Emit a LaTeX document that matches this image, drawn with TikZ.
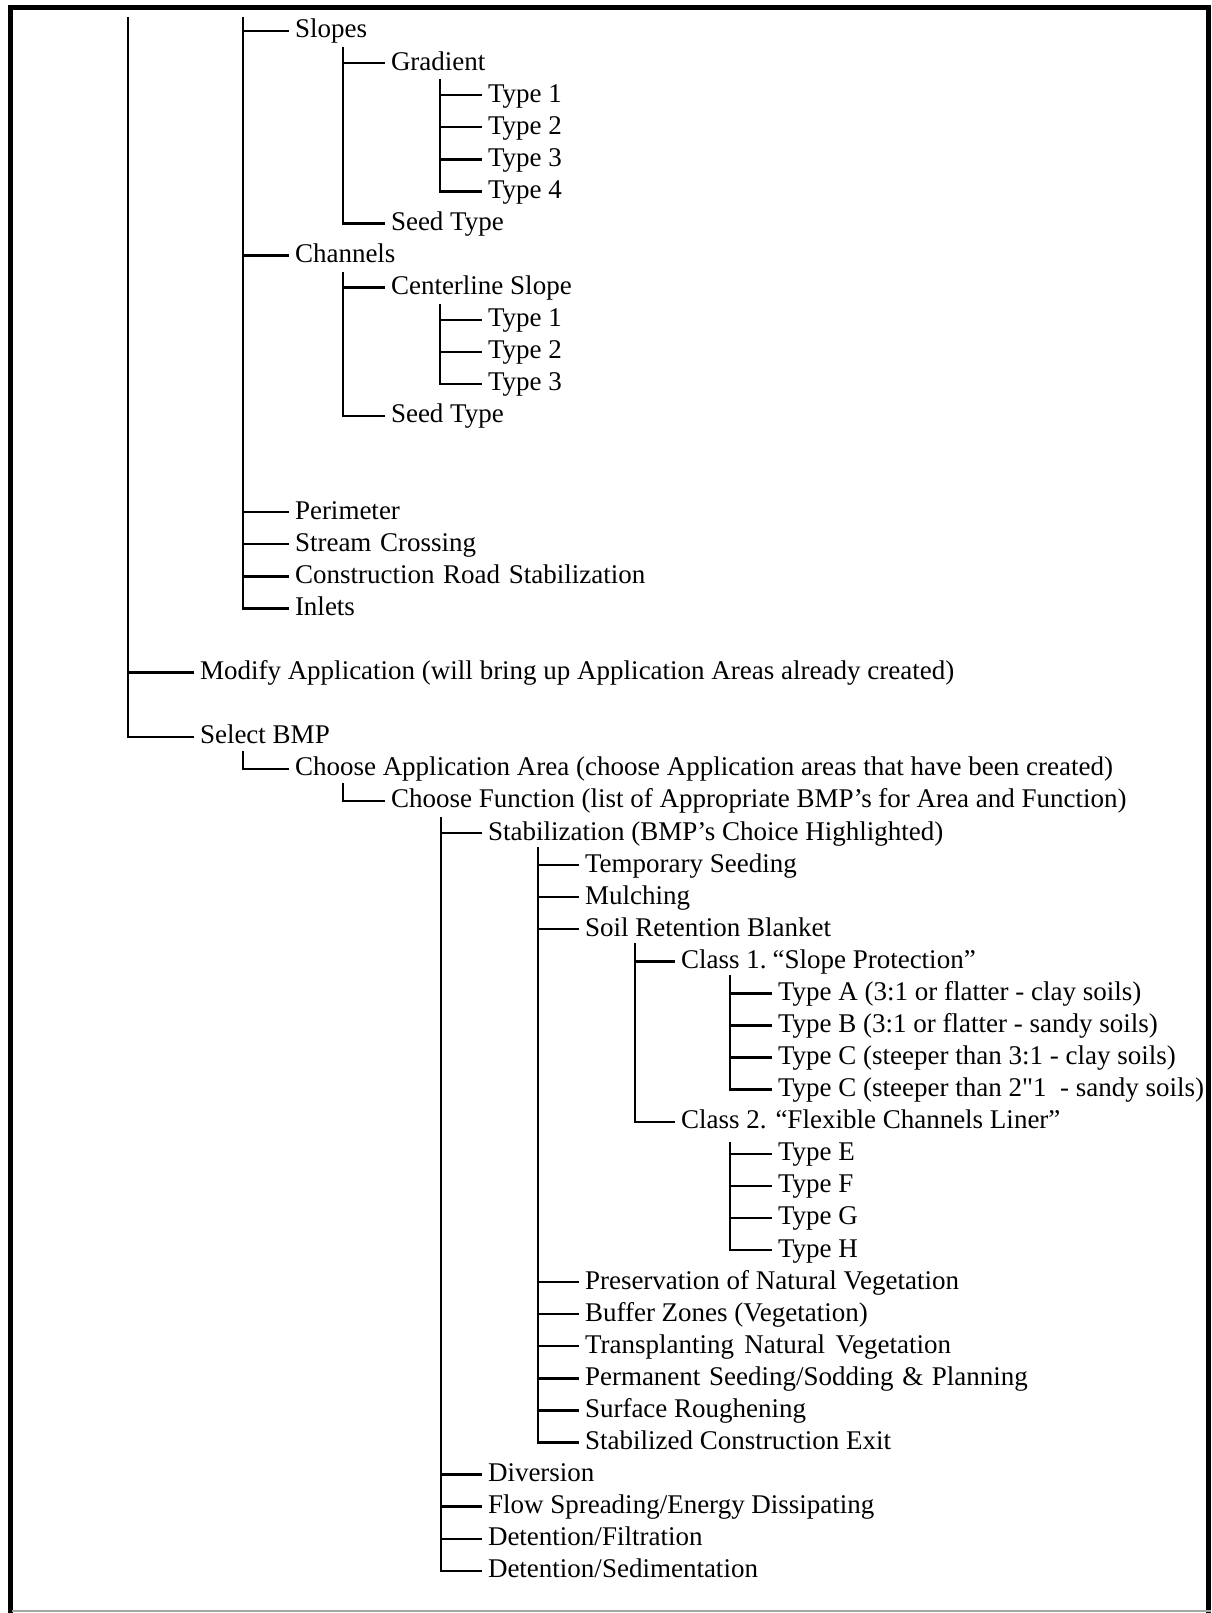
\documentclass[tikz,border=0pt]{standalone}
\usepackage{fontspec}
\setmainfont{Liberation Serif}
\pgfmathdeclarefunction{rowy}{1}{\pgfmathparse{31+32.08*#1}}
\newcommand\wsp{\hspace{0.32em}}
\newcommand\straightq{{\addfontfeature{Ligatures=TeXOff}"}}
\begin{document}
\begin{tikzpicture}[x=1pt,y=-1pt,
  lbl/.style={anchor=west, inner sep=0pt, outer sep=0pt, text height=20pt, text depth=6pt, font=\fontsize{27}{32}\selectfont},
  branch/.style={line width=2.4pt, shorten >=6pt},
  framebar/.style={line width=5pt}]
\useasboundingbox (0,0) rectangle (1211,1613);
% frame
\draw[framebar] (10.5,1613) -- (10.5,7.5) -- (1208.5,7.5) -- (1208.5,1613);
\draw[line width=2pt, black!35] (12,1611) -- (1211,1611);

% nodes
\node[lbl] (slopes) at (295,{rowy(0)}) {Slopes};
\node[lbl] (gradient) at (391,{rowy(1)}) {Gradient};
\node[lbl] (g1) at (488,{rowy(2)}) {Type 1};
\node[lbl] (g2) at (488,{rowy(3)}) {Type 2};
\node[lbl] (g3) at (488,{rowy(4)}) {Type 3};
\node[lbl] (g4) at (488,{rowy(5)}) {Type 4};
\node[lbl] (seeda) at (391,{rowy(6)}) {Seed Type};
\node[lbl] (channels) at (295,{rowy(7)}) {Channels};
\node[lbl] (center) at (391,{rowy(8)}) {Centerline Slope};
\node[lbl] (c1) at (488,{rowy(9)}) {Type 1};
\node[lbl] (c2) at (488,{rowy(10)}) {Type 2};
\node[lbl] (c3) at (488,{rowy(11)}) {Type 3};
\node[lbl] (seedb) at (391,{rowy(12)}) {Seed Type};
\node[lbl] (perim) at (295,{rowy(15)}) {Perimeter};
\node[lbl] (stream) at (295,{rowy(16)}) {Stream\wsp Crossing};
\node[lbl] (road) at (295,{rowy(17)}) {Construction\wsp Road\wsp Stabilization};
\node[lbl] (inlets) at (295,{rowy(18)}) {Inlets};
\node[lbl] (modify) at (200,{rowy(20)}) {Modify Application (will bring up Application Areas already created)};
\node[lbl] (select) at (200,{rowy(22)}) {Select BMP};
\node[lbl] (area) at (295,{rowy(23)}) {Choose Application Area (choose Application areas that have been created)};
\node[lbl] (func) at (391,{rowy(24)}) {Choose Function (list of Appropriate BMP’s for Area and Function)};
\node[lbl] (stab) at (488,{rowy(25)}) {Stabilization (BMP’s Choice Highlighted)};
\node[lbl] (temp) at (585,{rowy(26)}) {Temporary Seeding};
\node[lbl] (mulch) at (585,{rowy(27)}) {Mulching};
\node[lbl] (soil) at (585,{rowy(28)}) {Soil Retention Blanket};
\node[lbl] (class1) at (681,{rowy(29)}) {Class 1.\hspace{-3pt} “Slope Protection”};
\node[lbl] (ta) at (778,{rowy(30)}) {Type A (3:1 or flatter - clay soils)};
\node[lbl] (tb) at (778,{rowy(31)}) {Type B (3:1 or flatter - sandy soils)};
\node[lbl] (tc) at (778,{rowy(32)}) {Type C (steeper than 3:1 - clay soils)};
\node[lbl] (td) at (778,{rowy(33)}) {Type C (steeper than 2\straightq1\ \ - sandy soils)};
\node[lbl] (class2) at (681,{rowy(34)}) {Class 2. “Flexible Channels Liner”};
\node[lbl] (te) at (778,{rowy(35)}) {Type E};
\node[lbl] (tf) at (778,{rowy(36)}) {Type F};
\node[lbl] (tg) at (778,{rowy(37)}) {Type G};
\node[lbl] (th) at (778,{rowy(38)}) {Type H};
\node[lbl] (pres) at (585,{rowy(39)}) {Preservation of Natural Vegetation};
\node[lbl] (buffer) at (585,{rowy(40)}) {Buffer Zones (Vegetation)};
\node[lbl] (transpl) at (585,{rowy(41)}) {Transplanting\hspace{0.38em}Natural\hspace{0.38em}Vegetation};
\node[lbl] (perm) at (585,{rowy(42)}) {Permanent\wsp Seeding/Sodding\wsp \&\wsp Planning};
\node[lbl] (surf) at (585,{rowy(43)}) {Surface Roughening};
\node[lbl] (exit) at (585,{rowy(44)}) {Stabilized Construction Exit};
\node[lbl] (divers) at (488,{rowy(45)}) {Diversion};
\node[lbl] (flow) at (488,{rowy(46)}) {Flow Spreading/Energy Dissipating};
\node[lbl] (filt) at (488,{rowy(47)}) {Detention/Filtration};
\node[lbl] (sedim) at (488,{rowy(48)}) {Detention/Sedimentation};

% branch tops
\coordinate (l0top) at (128,17);
\coordinate (l1top) at (243,17);
\coordinate (slopesv) at (343,{rowy(0)+16});
\coordinate (gradv) at (440,{rowy(1)+16});
\coordinate (chanv) at (343,{rowy(7)+16});
\coordinate (centv) at (440,{rowy(8)+16});
\coordinate (selv) at (243,{rowy(22)+14});
\coordinate (areav) at (343,{rowy(23)+14});
\coordinate (funcv) at (441,{rowy(24)+16});
\coordinate (stabv) at (538,{rowy(25)+14});
\coordinate (soilv) at (635,{rowy(28)+14});
\coordinate (class1v) at (730,{rowy(29)+14});
\coordinate (class2v) at (730,{rowy(34)+20});

% level 0
\draw[branch] (l0top) |- (select.west);
\draw[branch] (l0top |- modify.west) -- (modify.west);
% level 1
\draw[branch] (l1top) |- (inlets.west);
\foreach \n in {slopes,channels,perim,stream,road}
  \draw[branch] (l1top |- \n.west) -- (\n.west);
% slopes
\draw[branch] (slopesv) |- (seeda.west);
\draw[branch] (slopesv |- gradient.west) -- (gradient.west);
\draw[branch] (gradv) |- (g4.west);
\foreach \n in {g1,g2,g3}
  \draw[branch] (gradv |- \n.west) -- (\n.west);
% channels
\draw[branch] (chanv) |- (seedb.west);
\draw[branch] (chanv |- center.west) -- (center.west);
\draw[branch] (centv) |- (c3.west);
\foreach \n in {c1,c2}
  \draw[branch] (centv |- \n.west) -- (\n.west);
% select BMP
\draw[branch] (selv) |- (area.west);
\draw[branch] (areav) |- (func.west);
\draw[branch] (funcv) |- (sedim.west);
\foreach \n in {stab,divers,flow,filt}
  \draw[branch] (funcv |- \n.west) -- (\n.west);
\draw[branch] (stabv) |- (exit.west);
\foreach \n in {temp,mulch,soil,pres,buffer,transpl,perm,surf}
  \draw[branch] (stabv |- \n.west) -- (\n.west);
\draw[branch] (soilv) |- (class2.west);
\draw[branch] (soilv |- class1.west) -- (class1.west);
\draw[branch] (class1v) |- (td.west);
\foreach \n in {ta,tb,tc}
  \draw[branch] (class1v |- \n.west) -- (\n.west);
\draw[branch] (class2v) |- (th.west);
\foreach \n in {te,tf,tg}
  \draw[branch] (class2v |- \n.west) -- (\n.west);
\end{tikzpicture}
\end{document}
